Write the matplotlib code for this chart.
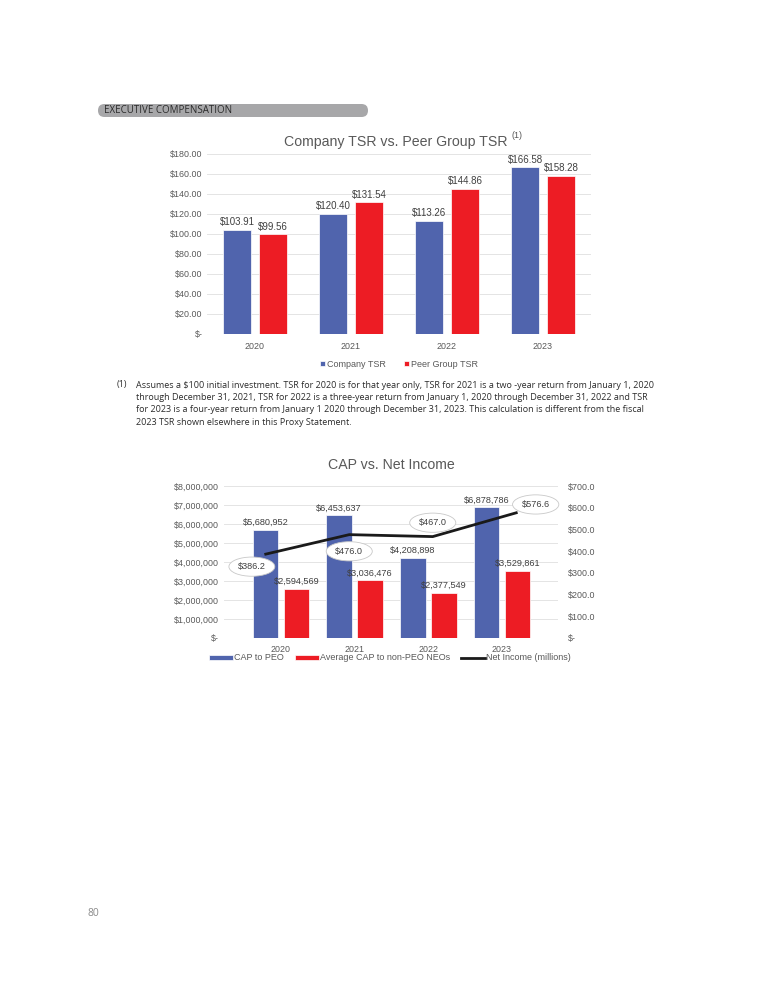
import numpy as np
import matplotlib.pyplot as plt
from matplotlib.patches import FancyBboxPatch

years = ["2020", "2021", "2022", "2023"]
company_tsr = [103.91, 120.40, 113.26, 166.58]
peer_tsr = [99.56, 131.54, 144.86, 158.28]

cap_peo = [5680952, 6453637, 4208898, 6878786]
cap_neo = [2594569, 3036476, 2377549, 3529861]
net_income = [386.2, 476.0, 467.0, 576.6]

footnote = [
    "Assumes a $100 initial investment. TSR for 2020 is for that year only, TSR for 2021 is a two -year return from January 1, 2020",
    "through December 31, 2021, TSR for 2022 is a three-year return from January 1, 2020 through December 31, 2022 and TSR",
    "for 2023 is a four-year return from January 1 2020 through December 31, 2023. This calculation is different from the fiscal",
    "2023 TSR shown elsewhere in this Proxy Statement.",
]

BLUE = "#5064AD"
RED = "#ED1C24"
GRID = "#E4E4E4"
TXT = "#595959"
LBL = "#404040"
plt.rcParams["font.family"] = ["Liberation Sans", "DejaVu Sans"]

W, H = 768, 993
fig = plt.figure(figsize=(W / 100, H / 100), dpi=100)


def px_axes(l, t, r, b):
    return fig.add_axes([l / W, 1 - b / H, (r - l) / W, (b - t) / H])


# page decoration
bg = fig.add_axes([0, 0, 1, 1], zorder=-5)
bg.set_xlim(0, W)
bg.set_ylim(H, 0)
bg.axis("off")
bg.add_patch(FancyBboxPatch((98, 104), 270, 13, boxstyle="round,pad=0,rounding_size=6.5",
                            fc="#A7A7A9", ec="none"))
bg.text(104, 110.8, "EXECUTIVE COMPENSATION", family="Open Sans", fontsize=7,
        color="#2b2b2b", va="center", ha="left")
bg.text(117, 385, "(1)", family="Open Sans", fontsize=6.5, color="#2b2b2b", va="center")
for i, line in enumerate(footnote):
    bg.text(136, 385 + i * 12.4, line, family="Open Sans", fontsize=6.5,
            color="#2b2b2b", va="center")
bg.text(88, 914, "80", family="Open Sans", fontsize=7.5, color="#8a8a8a", va="center")


def money(v, dec):
    if v == 0:
        return "$-"
    return "${:,.{d}f}".format(v, d=dec)


def style(ax):
    for s in ax.spines.values():
        s.set_visible(False)
    ax.tick_params(length=0, colors=TXT, labelsize=6.4)
    ax.grid(axis="y", color=GRID, lw=0.7)
    ax.set_axisbelow(True)


# ---- chart 1: TSR ----
ax1 = px_axes(207, 154, 591, 334)
x = np.arange(len(years))
w = 0.30
b1 = ax1.bar(x - 0.187, company_tsr, w, color=BLUE, ec="white", lw=0.5)
b2 = ax1.bar(x + 0.187, peer_tsr, w, color=RED, ec="white", lw=0.5)
ax1.set_xlim(-0.5, 3.5)
ax1.set_ylim(0, 180)
ax1.set_yticks(np.arange(0, 181, 20))
ax1.set_yticklabels([money(v, 2) for v in np.arange(0, 181, 20)])
ax1.set_xticks(x)
ax1.set_xticklabels(years)
style(ax1)
ax1.tick_params(axis="y", pad=3)
ax1.tick_params(axis="x", pad=6)
for bars, vals in ((b1, company_tsr), (b2, peer_tsr)):
    ax1.bar_label(bars, labels=[money(v, 2) for v in vals], padding=2,
                  fontsize=7, color=LBL)
fig.text(396 / W, 1 - 142 / H, "Company TSR vs. Peer Group TSR", ha="center",
         va="center", fontsize=10.2, color=TXT)
fig.text(512 / W, 1 - 136 / H, "(1)", ha="left", va="center", fontsize=6.5, color=TXT)
ax1.legend([b1, b2], ["Company TSR", "Peer Group TSR"], loc="center",
           bbox_to_anchor=(0.5, -0.167), ncol=2, frameon=False, fontsize=6.5,
           handlelength=0.6, handleheight=0.6, handletextpad=0.2, columnspacing=2.0,
           labelcolor=TXT)

# ---- chart 2: CAP vs Net Income ----
ax2 = px_axes(224, 486, 558, 638)
w2 = 0.35
c1 = ax2.bar(x - 0.21, cap_peo, w2, color=BLUE, ec="white", lw=0.5)
c2 = ax2.bar(x + 0.21, cap_neo, w2, color=RED, ec="white", lw=0.5)
ax2.set_xlim(-0.773, 3.76)
ax2.set_ylim(0, 8000000)
yt = np.arange(0, 8000001, 1000000)
ax2.set_yticks(yt)
ax2.set_yticklabels([money(v, 0) for v in yt])
ax2.set_xticks(x)
ax2.set_xticklabels(years)
style(ax2)
ax2.tick_params(axis="y", pad=4)
ax2.tick_params(axis="x", pad=5)
for bars, vals in ((c1, cap_peo), (c2, cap_neo)):
    ax2.bar_label(bars, labels=[money(v, 0) for v in vals], padding=2,
                  fontsize=6.6, color=LBL)

ax3 = px_axes(224, 486, 558, 638)
ax3.patch.set_visible(False)
ln, = ax3.plot(x, net_income, color="#1a1a1a", lw=2)
ax3.set_xlim(-0.5, 3.5)
ax3.set_ylim(0, 700)
rt = np.arange(0, 701, 100)
ax3.set_yticks(rt)
ax3.set_yticklabels([money(v, 1) for v in rt])
ax3.yaxis.tick_right()
ax3.set_xticks([])
for s in ax3.spines.values():
    s.set_visible(False)
ax3.tick_params(length=0, colors=TXT, labelsize=6.4, pad=7)
offsets = [(-10, -9), (0, -12), (0, 10), (14, 6)]
for xi, v, off in zip(x, net_income, offsets):
    ax3.annotate(money(v, 1), (xi, v), xytext=off, textcoords="offset points",
                 ha="center", va="center", fontsize=6.6, color=LBL,
                 bbox=dict(boxstyle="ellipse,pad=0.25", fc="white", ec="#C8C8C8", lw=0.6))

fig.text(391 / W, 1 - 465 / H, "CAP vs. Net Income", ha="center", va="center",
         fontsize=10.2, color=TXT)
fig.legend([c1, c2, ln], ["CAP to PEO", "Average CAP to non-PEO NEOs", "Net Income (millions)"],
           loc="center", bbox_to_anchor=(390 / W, 1 - 658 / H), ncol=3, frameon=False,
           fontsize=6.5, handlelength=2.6, handleheight=0.45, handletextpad=0.1,
           columnspacing=1.3, labelcolor=TXT)

fig.savefig("out.png", dpi=100)
